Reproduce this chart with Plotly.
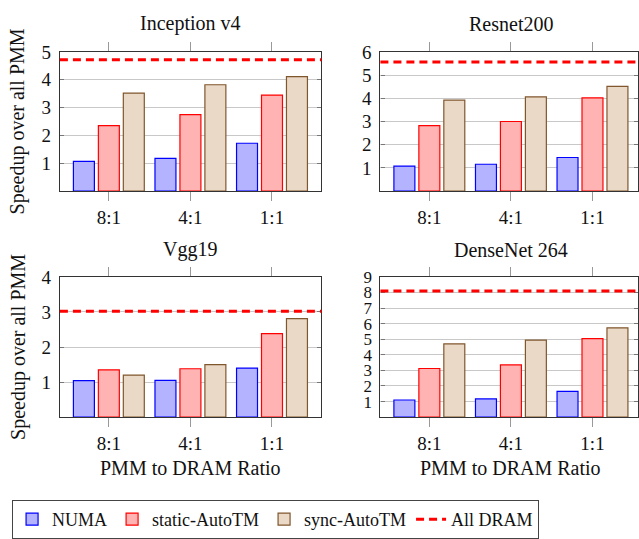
import plotly.graph_objects as go

categories = ["8:1", "4:1", "1:1"]
titles = ["Inception v4", "Resnet200", "Vgg19", "DenseNet 264"]
numa = [[1.07, 1.18, 1.72], [1.08, 1.16, 1.45], [1.04, 1.05, 1.40], [1.10, 1.17, 1.65]]
static_autotm = [[2.35, 2.75, 3.45], [2.82, 3.00, 4.02], [1.35, 1.38, 2.38], [3.12, 3.35, 5.04]]
sync_autotm = [[3.52, 3.82, 4.11], [3.92, 4.06, 4.51], [1.20, 1.50, 2.81], [4.70, 4.94, 5.73]]
all_dram = [4.72, 5.56, 3.02, 8.10]
ymax = [5, 6, 4, 9]

W, H = 639, 539
FONT = "Liberation Serif, DejaVu Serif, serif"
FS = 20
TFS = 19

# panel pixel boxes (left, right, top, bottom)
boxes = [(60, 322, 43, 186), (381, 639, 43, 186), (60, 322, 274, 418), (381, 639, 274, 418)]
px_per_cat = 81.7

series = [
    ("NUMA", numa, "rgb(179,179,255)", "rgb(0,0,255)"),
    ("static-AutoTM", static_autotm, "rgb(255,179,179)", "rgb(255,0,0)"),
    ("sync-AutoTM", sync_autotm, "rgb(234,217,198)", "rgb(128,86,45)"),
]

fig = go.Figure()
xpos = list(range(len(categories)))
layout = {}
shapes = []
annotations = []
for i in range(4):
    ax = "" if i == 0 else str(i + 1)
    l, r, t, b = boxes[i]
    for name, data, fill, edge in series:
        fig.add_trace(go.Bar(
            x=xpos, y=data[i], name=name, legendgroup=name, showlegend=(i == 0),
            marker=dict(color=fill, line=dict(color=edge, width=1.2)),
            xaxis="x" + ax, yaxis="y" + ax,
        ))
    xr_max = -0.6 + (r - l) / px_per_cat
    layout["xaxis" + ax] = dict(
        domain=[l / W, r / W], range=[-0.6, xr_max], anchor="y" + ax,
        tickvals=xpos, ticktext=categories, ticks="outside", ticklen=9,
        tickcolor="#999", showline=True, linecolor="#333", linewidth=1.2,
        mirror="ticks", showgrid=False, zeroline=False,
        tickfont=dict(family=FONT, size=TFS, color="#111"),
    )
    layout["yaxis" + ax] = dict(
        domain=[1 - b / H, 1 - t / H], range=[0, ymax[i]], anchor="x" + ax,
        tickvals=list(range(1, ymax[i] + 1)), ticks="inside", ticklen=4,
        tickcolor="#777", showline=True, linecolor="#333", linewidth=1.2,
        mirror="ticks", showgrid=True, gridcolor="#c8c8c8", gridwidth=1,
        zeroline=False, ticklabelstandoff=4,
        tickfont=dict(family=FONT, size=(17 if ymax[i] > 6 else TFS), color="#111"),
    )
    shapes.append(dict(
        type="line", xref="x" + ax + " domain", yref="y" + ax,
        x0=0, x1=1, y0=all_dram[i], y1=all_dram[i],
        line=dict(color="rgb(255,0,0)", width=3, dash="8px,5px"),
    ))
    annotations.append(dict(
        text=titles[i], x=(l + l + 261) / 2 / W, y=1 - (14 if i < 2 else 246) / H,
        xref="paper", yref="paper", showarrow=False, xanchor="center", yanchor="middle",
        font=dict(family=FONT, size=FS, color="#111"),
    ))
    if i % 2 == 0:
        annotations.append(dict(
            text="Speedup over all PMM", x=18 / W, y=1 - (t + b) / 2 / H,
            xref="paper", yref="paper", showarrow=False, textangle=-90,
            xanchor="center", yanchor="middle",
            font=dict(family=FONT, size=FS, color="#111"),
        ))
    if i >= 2:
        annotations.append(dict(
            text="PMM to DRAM Ratio", x=(l + l + 261) / 2 / W,
            y=1 - 470 / H, xref="paper", yref="paper", showarrow=False,
            xanchor="center", yanchor="middle",
            font=dict(family=FONT, size=FS, color="#111"),
        ))

fig.add_trace(go.Scatter(
    x=[None], y=[None], mode="lines", name="All DRAM",
    line=dict(color="rgb(255,0,0)", width=3, dash="8px,5px"), showlegend=True,
))

fig.update_layout(
    width=W, height=H, margin=dict(l=0, r=0, t=0, b=0),
    paper_bgcolor="white", plot_bgcolor="white",
    barmode="group", bargap=0.082, bargroupgap=0.16,
    shapes=shapes, annotations=annotations,
    font=dict(family=FONT, size=FS, color="#111"),
    legend=dict(
        orientation="h", x=276 / W, xanchor="center", y=1 - 503 / H, yanchor="top",
        bordercolor="#444", borderwidth=1, font=dict(family=FONT, size=18, color="#111"),
        itemwidth=30, tracegroupgap=0,
    ),
    **layout,
)
fig.write_html("out.html")
